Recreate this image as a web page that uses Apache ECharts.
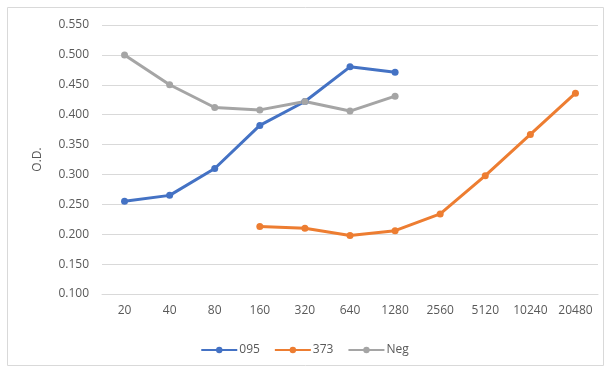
<!DOCTYPE html>
<html><head><meta charset="utf-8">
<script src="https://cdn.jsdelivr.net/npm/echarts@6/dist/echarts.min.js"></script>
<style>html,body{margin:0;padding:0;background:#fff}#c{width:609px;height:371px}</style>
</head><body><div id="c"></div>
<script>
const categories = ['20','40','80','160','320','640','1280','2560','5120','10240','20480'];
const s095 = [0.255,0.265,0.310,0.382,0.422,0.480,0.471,null,null,null,null];
const s373 = [null,null,null,0.213,0.210,0.198,0.206,0.234,0.298,0.367,0.436];
const sNeg = [0.500,0.450,0.412,0.408,0.422,0.406,0.431,null,null,null,null];
const seriesNames = ['095','373','Neg'];
const colors = ['#4472C4','#ED7D31','#A5A5A5'];
const font = "'Open Sans', 'Liberation Sans', sans-serif";
const chart = echarts.init(document.getElementById('c'), null, {renderer:'canvas'});
function mk(name, data, color){
  return {name, type:'line', data, color, symbol:'circle', symbolSize:7,
    lineStyle:{width:3,color}, itemStyle:{color}, connectNulls:false, animation:false};
}
chart.setOption({
  animation:false,
  graphic:[{type:'rect',shape:{x:7.5,y:7.5,width:596,height:358},style:{fill:'none',stroke:'#d9d9d9',lineWidth:1}}],
  grid:{left:102,right:11,top:25,bottom:77},
  legend:{bottom:10,left:'center',itemWidth:36,itemHeight:8,itemGap:14,
    textStyle:{color:'#595959',fontSize:12,fontFamily:font,padding:[0,0,0,-3]},
    data:seriesNames},
  xAxis:{type:'category',data:categories,boundaryGap:true,
    axisLine:{show:true,lineStyle:{color:'#d9d9d9'}},axisTick:{show:false},
    axisLabel:{color:'#595959',fontSize:12,fontFamily:font,margin:11,interval:0}},
  yAxis:{type:'value',min:0.1,max:0.55,interval:0.05,name:'O.D.',nameLocation:'middle',nameGap:58,
    nameTextStyle:{color:'#595959',fontSize:12,fontFamily:font},
    axisLine:{show:false},axisTick:{show:false},
    axisLabel:{color:'#595959',fontSize:12,fontFamily:font,margin:13,formatter:v=>v.toFixed(3)},
    splitLine:{lineStyle:{color:'#d9d9d9'}}},
  series:[mk(seriesNames[0],s095,colors[0]),mk(seriesNames[1],s373,colors[1]),mk(seriesNames[2],sNeg,colors[2])]
});
</script></body></html>
